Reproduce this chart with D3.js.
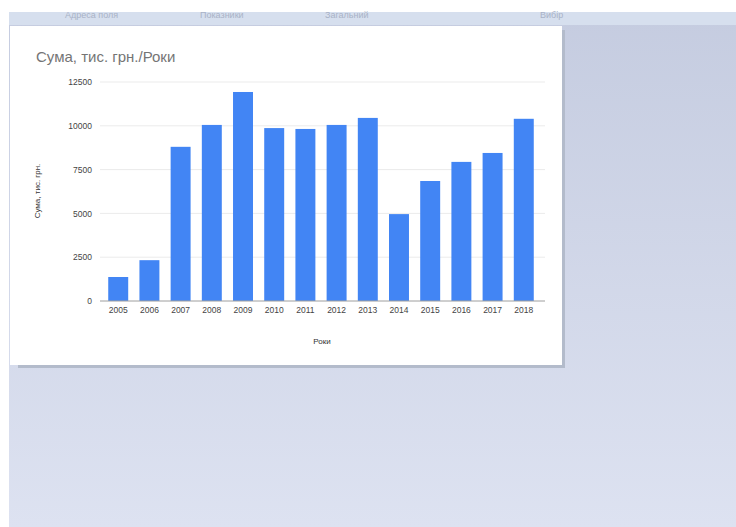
<!DOCTYPE html>
<html>
<head>
<meta charset="utf-8">
<script src="https://cdn.jsdelivr.net/npm/d3@7"></script>
<style>
  html, body { margin: 0; padding: 0; background: #fff; }
  svg { display: block; }
</style>
</head>
<body>
<svg id="chart" width="736" height="527"></svg>
<script>
// chart data
const years = ['2005','2006','2007','2008','2009','2010','2011','2012','2013','2014','2015','2016','2017','2018'];
const sums = [1370, 2330, 8800, 10050, 11930, 9870, 9820, 10050, 10450, 4960, 6850, 7940, 8450, 10400];
const yTicks = [0, 2500, 5000, 7500, 10000, 12500];
const topLabels = ['Адреса поля', 'Показники', 'Загальний', 'Вибір'];

const svg = d3.select('#chart');

// page background
const defs = svg.append('defs');
const grad = defs.append('linearGradient').attr('id', 'bg').attr('x1', 0).attr('y1', 0).attr('x2', 0).attr('y2', 1);
grad.append('stop').attr('offset', '0%').attr('stop-color', '#c5cce0');
grad.append('stop').attr('offset', '100%').attr('stop-color', '#dde2f1');
svg.append('rect').attr('x', 9).attr('y', 12).attr('width', 727).attr('height', 515).attr('fill', 'url(#bg)');

// strip at top with faint labels
svg.append('rect').attr('x', 9).attr('y', 12).attr('width', 727).attr('height', 13).attr('fill', '#d6dfee');
const topX = [65, 200, 325, 540];
svg.selectAll('.toplab').data(topLabels).enter().append('text')
  .attr('x', (d, i) => topX[i]).attr('y', 18)
  .attr('font-family', 'Arial, Liberation Sans, sans-serif').attr('font-size', 9)
  .attr('fill', '#a9b2c6').text(d => d);

// card with shadow
svg.append('rect').attr('x', 18).attr('y', 30).attr('width', 547).attr('height', 338).attr('fill', '#b3bbcb');
svg.append('rect').attr('x', 10).attr('y', 26).attr('width', 552).attr('height', 339).attr('fill', '#ffffff');

const margin = {left: 102, right: 540, top: 82, bottom: 301};

const x = d3.scaleBand().domain(years).range([margin.left, margin.right]).paddingInner(0.36).paddingOuter(0.2);
const y = d3.scaleLinear().domain([0, 12500]).range([margin.bottom, margin.top]);

// gridlines
svg.append('g').selectAll('line').data(yTicks.filter(d => d > 0)).enter().append('line')
  .attr('x1', 100).attr('x2', 545)
  .attr('y1', d => y(d)).attr('y2', d => y(d))
  .attr('stroke', '#ebebeb').attr('stroke-width', 1);

// bars
svg.append('g').selectAll('rect').data(years).enter().append('rect')
  .attr('x', d => x(d))
  .attr('y', (d, i) => y(sums[i]))
  .attr('width', x.bandwidth())
  .attr('height', (d, i) => y(0) - y(sums[i]))
  .attr('fill', '#4285f4');

// baseline
svg.append('line').attr('x1', 100).attr('x2', 545).attr('y1', y(0)).attr('y2', y(0))
  .attr('stroke', '#9e9e9e').attr('stroke-width', 1);

// y axis
const yAxis = svg.append('g').attr('transform', 'translate(95,0)')
  .call(d3.axisLeft(y).tickValues(yTicks).tickFormat(d3.format('d')).tickSize(0).tickPadding(3));
yAxis.select('.domain').remove();
yAxis.selectAll('text').attr('font-family', 'Arial, Liberation Sans, sans-serif').attr('font-size', 8.5).attr('fill', '#444');

// x axis
const xAxis = svg.append('g').attr('transform', 'translate(0,' + y(0) + ')')
  .call(d3.axisBottom(x).tickSize(0).tickPadding(6));
xAxis.select('.domain').remove();
xAxis.selectAll('text').attr('font-family', 'Arial, Liberation Sans, sans-serif').attr('font-size', 8.5).attr('fill', '#444');

// titles
svg.append('text').attr('x', 36).attr('y', 62)
  .attr('font-family', 'Arial, Liberation Sans, sans-serif').attr('font-size', 15)
  .attr('fill', '#757575').text('Сума, тис. грн./Роки');

svg.append('text').attr('transform', 'translate(40,191) rotate(-90)')
  .attr('text-anchor', 'middle')
  .attr('font-family', 'Arial, Liberation Sans, sans-serif').attr('font-size', 8)
  .attr('fill', '#333').text('Сума, тис. грн.');

svg.append('text').attr('x', 322).attr('y', 344).attr('text-anchor', 'middle')
  .attr('font-family', 'Arial, Liberation Sans, sans-serif').attr('font-size', 8)
  .attr('fill', '#333').text('Роки');
</script>
</body>
</html>
